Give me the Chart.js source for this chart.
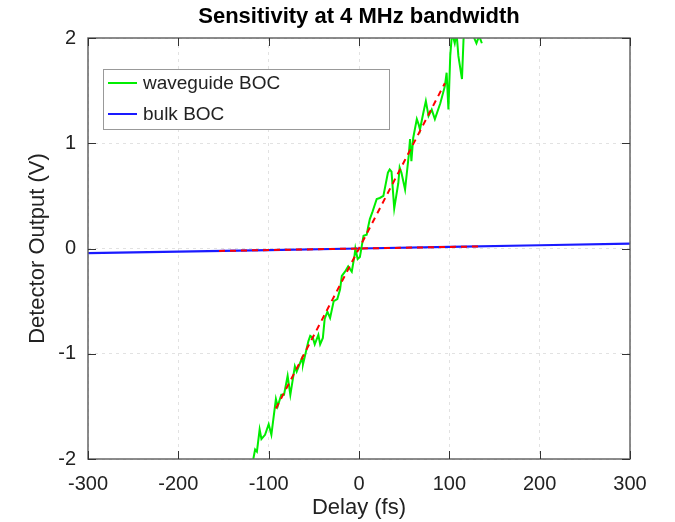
<!DOCTYPE html>
<html>
<head>
<meta charset="utf-8">
<script src="https://cdn.jsdelivr.net/npm/chart.js@4.4.0/dist/chart.umd.min.js"></script>
<style>
  body { margin: 0; background: #fff; }
  canvas { display: block; }
</style>
</head>
<body>
<canvas id="c" width="675" height="522"></canvas>
<script>
// waveguide BOC trace (delay in fs, output in V)
const wgDelay = [-121, -117, -115, -113, -110, -108, -104, -100, -97, -92, -90, -86, -83, -79, -76, -71, -69, -63, -62, -59, -56, -54, -51, -49, -45, -43, -40, -38, -35, -32, -28, -24, -21, -19, -15.5, -12, -8, -5, -4, -1.5, 1, 3, 5, 8.5, 10, 12, 15, 19.6, 23, 27, 32, 34, 36, 39, 43.5, 45, 47, 51, 55, 56.5, 58, 60, 64, 66, 67.5, 71, 74, 77, 80.5, 84, 90, 95, 97, 99, 101, 103, 106, 108, 110, 114, 116, 120, 125, 128, 130, 133, 136];
const wgOutput = [-2.15, -2.0, -1.91, -1.93, -1.72, -1.81, -1.77, -1.67, -1.77, -1.43, -1.50, -1.39, -1.39, -1.21, -1.39, -1.12, -1.17, -1.04, -1.10, -0.99, -0.88, -0.83, -0.85, -0.91, -0.82, -0.91, -0.85, -0.67, -0.60, -0.66, -0.50, -0.48, -0.39, -0.26, -0.22, -0.17, -0.22, -0.07, 0.0, -0.10, -0.08, 0.02, 0.12, 0.13, 0.20, 0.28, 0.35, 0.47, 0.48, 0.50, 0.72, 0.75, 0.73, 0.38, 0.62, 0.77, 0.72, 0.56, 0.88, 1.04, 0.83, 1.05, 1.23, 1.18, 1.13, 1.28, 1.40, 1.26, 1.32, 1.23, 1.38, 1.54, 1.67, 1.32, 1.83, 2.05, 1.95, 2.05, 1.83, 1.61, 2.05, 2.2, 2.1, 1.99, 1.95, 2.02, 1.95];

// bulk BOC trace
const bulkDelay = [-300, -200, -100, 0, 100, 200, 300];
const bulkOutput = [-0.044, -0.030, -0.015, 0.0, 0.015, 0.031, 0.047];

// linear fits (red dashed)
const wgFitDelay = [-92, 95];
const wgFitOutput = [-1.52, 1.57];
const bulkFitDelay = [-155, 135];
const bulkFitOutput = [-0.023, 0.020];

const xTicks = [-300, -200, -100, 0, 100, 200, 300];
const yTicks = [-2, -1, 0, 1, 2];

const titleText = 'Sensitivity at 4 MHz bandwidth';
const xLabel = 'Delay (fs)';
const yLabel = 'Detector Output (V)';

function pts(xs, ys) {
  return xs.map((x, i) => ({ x: x, y: ys[i] }));
}

const FONT = '"Liberation Sans", Arial, sans-serif';

const frame = {
  id: 'frame',
  afterDraw(chart) {
    const ctx = chart.ctx;
    const a = chart.chartArea;
    const xs = chart.scales.x, ys = chart.scales.y;
    ctx.save();
    // box
    ctx.strokeStyle = '#666';
    ctx.lineWidth = 1.5;
    ctx.strokeRect(a.left, a.top, a.right - a.left, a.bottom - a.top);
    // inward ticks
    ctx.strokeStyle = '#333';
    ctx.lineWidth = 1;
    const len = 8;
    ctx.beginPath();
    xTicks.forEach(v => {
      const px = Math.round(xs.getPixelForValue(v)) + 0.5;
      ctx.moveTo(px, a.bottom); ctx.lineTo(px, a.bottom - len);
      ctx.moveTo(px, a.top); ctx.lineTo(px, a.top + len);
    });
    yTicks.forEach(v => {
      const py = Math.round(ys.getPixelForValue(v)) + 0.5;
      ctx.moveTo(a.left, py); ctx.lineTo(a.left + len, py);
      ctx.moveTo(a.right, py); ctx.lineTo(a.right - len, py);
    });
    ctx.stroke();

    // title
    ctx.fillStyle = '#000';
    ctx.font = 'bold 22px ' + FONT;
    ctx.textAlign = 'center';
    ctx.textBaseline = 'middle';
    ctx.fillText(titleText, (a.left + a.right) / 2, 17);

    // axis titles
    ctx.fillStyle = '#222';
    ctx.font = '22px ' + FONT;
    ctx.fillText(xLabel, (a.left + a.right) / 2, 508);
    ctx.save();
    ctx.translate(38, (a.top + a.bottom) / 2);
    ctx.rotate(-Math.PI / 2);
    ctx.fillText(yLabel, 0, 0);
    ctx.restore();

    // legend
    const lx = 103, ly = 69, lw = 286, lh = 60;
    ctx.fillStyle = '#fff';
    ctx.fillRect(lx, ly, lw, lh);
    ctx.strokeStyle = '#999';
    ctx.lineWidth = 1;
    ctx.strokeRect(lx + 0.5, ly + 0.5, lw, lh);
    const entries = [
      { label: 'waveguide BOC', color: '#00ee00', y: ly + 14 },
      { label: 'bulk BOC', color: '#1a1aff', y: ly + 45 }
    ];
    ctx.textAlign = 'left';
    ctx.font = '19px ' + FONT;
    entries.forEach(e => {
      ctx.strokeStyle = e.color;
      ctx.lineWidth = 2;
      ctx.beginPath();
      ctx.moveTo(lx + 5, e.y); ctx.lineTo(lx + 34, e.y);
      ctx.stroke();
      ctx.fillStyle = '#222';
      ctx.fillText(e.label, lx + 40, e.y + 1);
    });
    ctx.restore();
  }
};

new Chart(document.getElementById('c'), {
  type: 'line',
  data: {
    datasets: [
      { label: 'fit wg', data: pts(wgFitDelay, wgFitOutput), borderColor: '#ff0000', borderWidth: 2, borderDash: [6, 5], pointRadius: 0 },
      { label: 'fit bulk', data: pts(bulkFitDelay, bulkFitOutput), borderColor: '#ff0000', borderWidth: 2, borderDash: [6, 5], pointRadius: 0 },
      { label: 'waveguide BOC', data: pts(wgDelay, wgOutput), borderColor: '#00ee00', borderWidth: 2, pointRadius: 0 },
      { label: 'bulk BOC', data: pts(bulkDelay, bulkOutput), borderColor: '#1a1aff', borderWidth: 2.2, pointRadius: 0 }
    ]
  },
  options: {
    responsive: false,
    animation: false,
    layout: { padding: { top: 38, right: 45, left: 0, bottom: 0 } },
    plugins: { legend: { display: false }, title: { display: false }, tooltip: { enabled: false } },
    scales: {
      x: {
        type: 'linear', min: -300, max: 300,
        afterFit: s => { s.height = 63; },
        afterBuildTicks: s => { s.ticks = xTicks.map(v => ({ value: v })); },
        ticks: { color: '#222', font: { family: FONT, size: 20 }, padding: 13, autoSkip: false, maxRotation: 0 },
        grid: { color: '#e2e2e2', drawTicks: false, lineWidth: 1 },
        border: { display: false, dash: [3, 4] }
      },
      y: {
        type: 'linear', min: -2, max: 2,
        afterFit: s => { s.width = 88; },
        afterBuildTicks: s => { s.ticks = yTicks.map(v => ({ value: v })); },
        ticks: { color: '#222', font: { family: FONT, size: 20 }, padding: 12, autoSkip: false },
        grid: { color: '#e2e2e2', drawTicks: false, lineWidth: 1 },
        border: { display: false, dash: [3, 4] }
      }
    }
  },
  plugins: [frame]
});
</script>
</body>
</html>
